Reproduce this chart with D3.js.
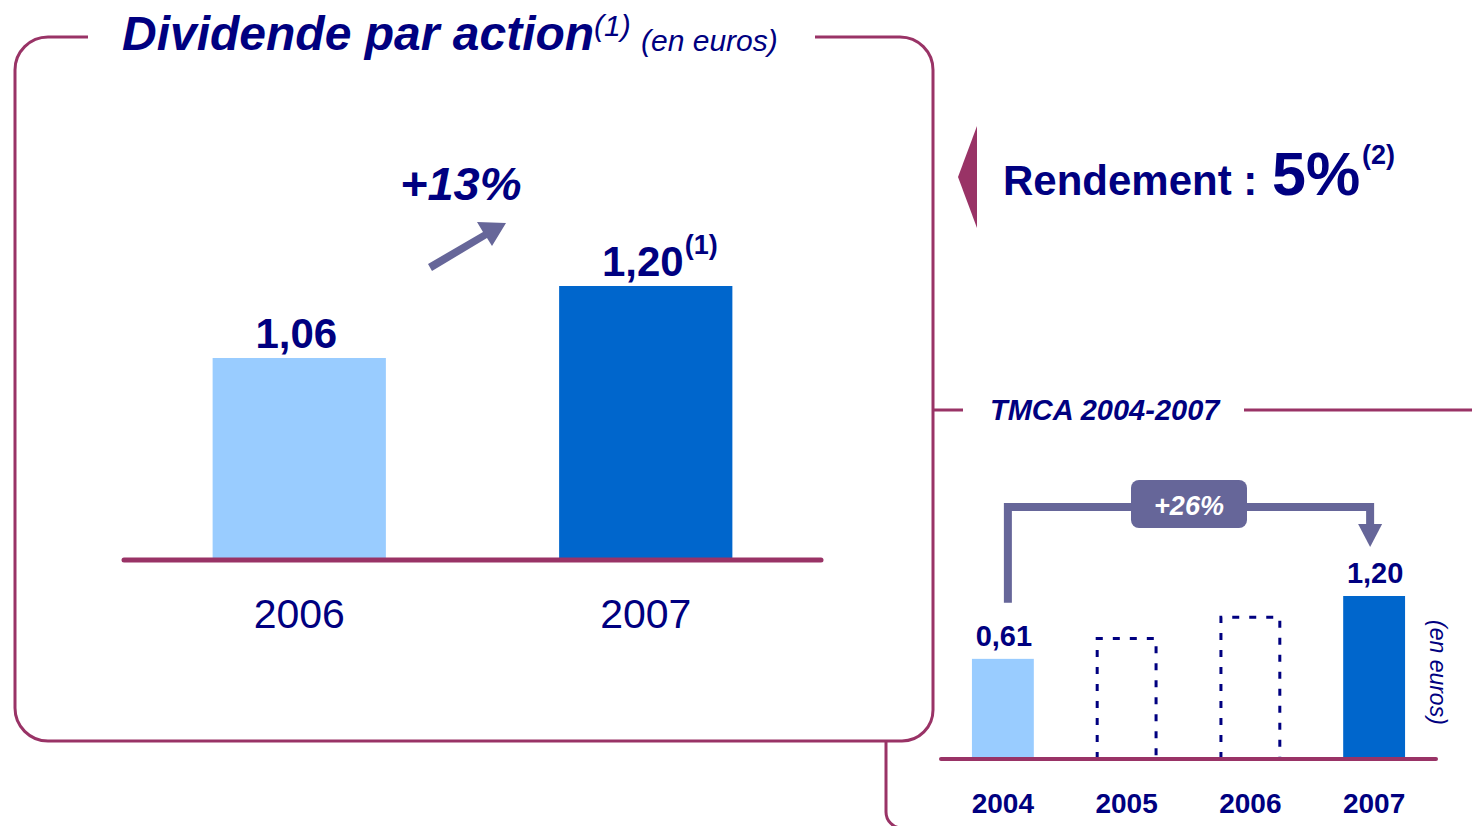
<!DOCTYPE html>
<meta charset="utf-8">
<head>
	<script src="https://d3js.org/d3.v7.min.js"></script>
	<style>
		body { margin: 0; background: #fff; }
		svg { display: block; font-family: "Liberation Sans", Arial, sans-serif; }
		.navy { fill: #000080; }
	</style>
</head>
<body>
	<div id="chart"></div>
</body>
<script type="text/javascript">
	// main chart
	var mainYears = ["2006", "2007"];
	var mainValues = [1.06, 1.20];
	var mainLabels = ["1,06", "1,20"];
	var mainNotes = ["", "(1)"];

	// TMCA chart (2005 / 2006 only drawn as dotted outlines)
	var tmcaYears = ["2004", "2005", "2006", "2007"];
	var tmcaValues = [0.61, 0.80, 1.00, 1.20];
	var tmcaLabels = ["0,61", "", "", "1,20"];
	var tmcaDotted = [false, true, true, false];

	var maroon = "#993366",
		arrowCol = "#666699",
		light = "#99CCFF",
		dark = "#0066CC";

	var svg = d3.select("#chart").append("svg")
		.attr("width", 1472)
		.attr("height", 826);

	// frames
	svg.append("path")
		.attr("d", "M88,37 H48 A33,33 0 0 0 15,70 V708 A33,33 0 0 0 48,741 H902 A31,31 0 0 0 933,710 V70 A33,33 0 0 0 900,37 H815")
		.style("fill", "none").style("stroke", maroon).style("stroke-width", 3);
	svg.append("path")
		.attr("d", "M886,741 V812 A16,16 0 0 0 902,828 H1472")
		.style("fill", "none").style("stroke", maroon).style("stroke-width", 3);
	svg.append("path")
		.attr("d", "M933,410 H963 M1244,410 H1472")
		.style("fill", "none").style("stroke", maroon).style("stroke-width", 3);

	// title
	svg.append("text").attr("class", "navy")
		.attr("x", 122).attr("y", 50)
		.style("font-size", "48px").style("font-weight", "bold").style("font-style", "italic")
		.text("Dividende par action");
	svg.append("text").attr("class", "navy")
		.attr("x", 594).attr("y", 36)
		.style("font-size", "30px").style("font-style", "italic")
		.text("(1)");
	svg.append("text").attr("class", "navy")
		.attr("x", 641).attr("y", 51)
		.style("font-size", "30px").style("font-style", "italic")
		.text("(en euros)");

	// ---- main bars
	var x = d3.scaleBand()
		.domain(mainYears)
		.range([126, 819])
		.paddingInner(0.5)
		.paddingOuter(0.25);

	var y = d3.scaleLinear()
		.domain([0.673, 1.20])
		.range([557, 286]);

	var main = svg.append("g").attr("class", "main");

	main.selectAll("rect")
		.data(mainValues)
		.enter().append("rect")
		.attr("x", function(d, i) { return x(mainYears[i]); })
		.attr("y", function(d) { return y(d); })
		.attr("width", x.bandwidth())
		.attr("height", function(d) { return y.range()[0] - y(d) + 1; })
		.style("fill", function(d, i) { return i == 0 ? light : dark; });

	main.append("line")
		.attr("x1", x.range()[0] - 2).attr("x2", x.range()[1] + 2)
		.attr("y1", 560).attr("y2", 560)
		.style("stroke", maroon).style("stroke-width", 5).style("stroke-linecap", "round");

	main.selectAll(".val")
		.data(mainValues)
		.enter().append("text")
		.attr("class", "val navy")
		.attr("x", function(d, i) { return x(mainYears[i]) + x.bandwidth() / 2 - 3; })
		.attr("y", function(d) { return y(d) - 10; })
		.attr("text-anchor", "middle")
		.style("font-size", "42px").style("font-weight", "bold")
		.text(function(d, i) { return mainLabels[i]; });

	main.selectAll(".note")
		.data(mainValues)
		.enter().append("text")
		.attr("class", "note navy")
		.attr("x", function(d, i) { return x(mainYears[i]) + x.bandwidth() / 2 + 39; })
		.attr("y", function(d) { return y(d) - 32; })
		.style("font-size", "27px").style("font-weight", "bold")
		.text(function(d, i) { return mainNotes[i]; });

	main.selectAll(".year")
		.data(mainYears)
		.enter().append("text")
		.attr("class", "year navy")
		.attr("x", function(d) { return x(d) + x.bandwidth() / 2; })
		.attr("y", 628)
		.attr("text-anchor", "middle")
		.style("font-size", "41px")
		.text(function(d) { return d; });

	// +13% and arrow
	svg.append("text").attr("class", "navy")
		.attr("x", 400).attr("y", 200)
		.style("font-size", "47px").style("font-weight", "bold").style("font-style", "italic")
		.text("+13%");
	svg.append("path")
		.attr("d", "M428,264 L483,232 L477,222 L506,223 L492,246 L487,238 L432,271 Z")
		.style("fill", arrowCol);

	// Rendement
	svg.append("path")
		.attr("d", "M977,126 L958,177 L977,228 Z")
		.style("fill", maroon);
	svg.append("text").attr("class", "navy")
		.attr("x", 1003).attr("y", 195)
		.style("font-size", "42px").style("font-weight", "bold")
		.text("Rendement :");
	svg.append("text").attr("class", "navy")
		.attr("x", 1272).attr("y", 195)
		.style("font-size", "61px").style("font-weight", "bold")
		.text("5%");
	svg.append("text").attr("class", "navy")
		.attr("x", 1362).attr("y", 164)
		.style("font-size", "27px").style("font-weight", "bold")
		.text("(2)");

	svg.append("text").attr("class", "navy")
		.attr("x", 990).attr("y", 420)
		.style("font-size", "29px").style("font-weight", "bold").style("font-style", "italic")
		.text("TMCA 2004-2007");

	// ---- TMCA chart
	var xs = d3.scaleBand()
		.domain(tmcaYears)
		.range([941, 1436])
		.paddingInner(0.5)
		.paddingOuter(0.25);

	var ys = d3.scaleLinear()
		.domain([-0.33, 1.20])
		.range([759, 596]);

	var small = svg.append("g").attr("class", "tmca");
	var base = ys.range()[0];

	small.selectAll("rect")
		.data(tmcaValues.filter(function(d, i) { return !tmcaDotted[i]; }))
		.enter().append("rect")
		.attr("x", function(d) { return xs(tmcaYears[tmcaValues.indexOf(d)]); })
		.attr("y", function(d) { return ys(d); })
		.attr("width", xs.bandwidth())
		.attr("height", function(d) { return base - ys(d); })
		.style("fill", function(d) { return tmcaValues.indexOf(d) == 0 ? light : dark; });

	small.selectAll(".dotted")
		.data(tmcaValues.filter(function(d, i) { return tmcaDotted[i]; }))
		.enter().append("path")
		.attr("class", "dotted")
		.attr("d", function(d) {
			var x0 = xs(tmcaYears[tmcaValues.indexOf(d)]) + 1.5, x1 = x0 + xs.bandwidth() - 3, t = ys(d);
			return "M" + x0 + "," + base + " V" + t + " H" + x1 + " V" + base;
		})
		.style("fill", "none").style("stroke", "#000080").style("stroke-width", 3)
		.style("stroke-dasharray", "7,10");

	small.append("line")
		.attr("x1", xs.range()[0]).attr("x2", xs.range()[1])
		.attr("y1", 759).attr("y2", 759)
		.style("stroke", maroon).style("stroke-width", 4).style("stroke-linecap", "round");

	small.selectAll(".val")
		.data(tmcaValues)
		.enter().append("text")
		.attr("class", "val navy")
		.attr("x", function(d, i) { return xs(tmcaYears[i]) + xs.bandwidth() / 2 + 1; })
		.attr("y", function(d) { return ys(d) - 13; })
		.attr("text-anchor", "middle")
		.style("font-size", "29px").style("font-weight", "bold")
		.text(function(d, i) { return tmcaLabels[i]; });

	small.selectAll(".year")
		.data(tmcaYears)
		.enter().append("text")
		.attr("class", "year navy")
		.attr("x", function(d) { return xs(d) + xs.bandwidth() / 2; })
		.attr("y", 813)
		.attr("text-anchor", "middle")
		.style("font-size", "28px").style("font-weight", "bold")
		.text(function(d) { return d; });

	svg.append("text").attr("class", "navy")
		.attr("transform", "translate(1430,620)rotate(90)")
		.style("font-size", "23px").style("font-style", "italic")
		.text("(en euros)");

	// bracket +26%
	var bl = xs(tmcaYears[0]) + xs.bandwidth() / 2 + 5,
		br = xs(tmcaYears[3]) + xs.bandwidth() / 2 - 4,
		bt = 507;
	svg.append("path")
		.attr("d", "M" + bl + "," + (ys(tmcaValues[0]) - 56) + " V" + bt + " H" + br + " V" + (ys(tmcaValues[3]) - 71))
		.style("fill", "none").style("stroke", arrowCol).style("stroke-width", 8);
	svg.append("path")
		.attr("d", "M" + (br - 12) + "," + (ys(tmcaValues[3]) - 72) + " L" + (br + 12) + "," + (ys(tmcaValues[3]) - 72) + " L" + br + "," + (ys(tmcaValues[3]) - 49) + " Z")
		.style("fill", arrowCol);
	var mid = (bl + br) / 2;
	svg.append("rect")
		.attr("x", mid - 58).attr("y", 480)
		.attr("width", 116).attr("height", 48)
		.attr("rx", 8)
		.style("fill", arrowCol);
	svg.append("text")
		.attr("x", mid).attr("y", 515)
		.attr("text-anchor", "middle")
		.style("fill", "#fff")
		.style("font-size", "27px").style("font-weight", "bold").style("font-style", "italic")
		.text("+26%");
</script>
